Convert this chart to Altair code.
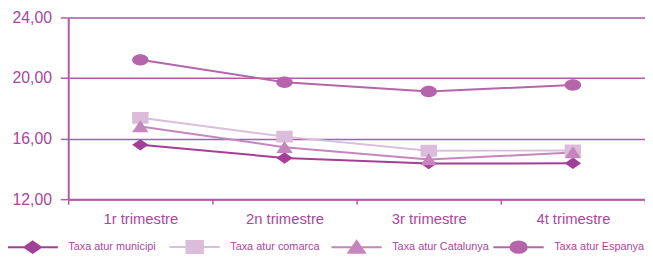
import altair as alt
import pandas as pd

quarters = ["1r trimestre", "2n trimestre", "3r trimestre", "4t trimestre"]
series = ["Taxa atur municipi", "Taxa atur comarca", "Taxa atur Catalunya", "Taxa atur Espanya"]
municipi = [15.59, 14.72, 14.35, 14.37]
comarca = [17.37, 16.13, 15.20, 15.21]
catalunya = [16.80, 15.43, 14.62, 15.08]
espanya = [21.20, 19.72, 19.11, 19.54]
y_ticks = [12, 16, 20, 24]

colors = ["#a43f98", "#dcbcdb", "#c785bd", "#b565a9"]
FONT = "Liberation Sans, Arial, sans-serif"
TEXT = "#a8479d"
AXIS = "#b35aa7"

# marker shapes (unit space, stretched horizontally like the original);
# the leading open segment is only stroked in the legend (points have no stroke)
markers = [
    "M0,-1L1.45,0L0,1L-1.45,0Z",
    "M-1.45,-1.05H1.45V1.05H-1.45Z",
    "M0,-1.1L1.45,1L-1.45,1Z",
    "M-1.45,0A1.45,1 0 1,1 1.45,0A1.45,1 0 1,1 -1.45,0Z",
]
legend_paths = ["M-4.43,0H4.43" + m for m in markers]

rows = []
for name, col, vals in zip(series, colors, [municipi, comarca, catalunya, espanya]):
    for q, v in zip(quarters, vals):
        rows.append({"quarter": q, "series": name, "col": col, "value": v})
df = pd.DataFrame(rows)

x = alt.X(
    "quarter:N",
    sort=quarters,
    title=None,
    scale=alt.Scale(paddingInner=0, paddingOuter=0),
    axis=alt.Axis(
        tickBand="extent",
        labelAngle=0,
        grid=False,
        domainColor=AXIS,
        domainWidth=2,
        tickColor=AXIS,
        tickWidth=1.5,
        tickSize=5,
        labelPadding=8,
        labelFont=FONT,
        labelFontSize=15,
        labelColor=TEXT,
    ),
)
y = alt.Y(
    "value:Q",
    title=None,
    scale=alt.Scale(domain=[12, 24], nice=False, zero=False),
    axis=alt.Axis(
        values=y_ticks,
        labelExpr="replace(format(datum.value, '.2f'), '.', ',')",
        grid=True,
        gridColor=AXIS,
        gridWidth=1.5,
        domainColor=AXIS,
        domainWidth=2,
        tickColor=AXIS,
        tickWidth=1.5,
        tickSize=8,
        labelPadding=9,
        labelFont=FONT,
        labelFontSize=16,
        labelColor=TEXT,
    ),
)

legend = alt.Legend(
    orient="none",
    legendX=-43,
    legendY=225,
    direction="horizontal",
    columns=4,
    gridAlign="all",
    columnPadding=0,
    padding=0,
    labelFont=FONT,
    labelFontSize=11,
    labelColor=TEXT,
    labelOffset=29,
    symbolSize=132,
    symbolStrokeWidth=2,
    symbolOpacity=1,
)

lines = alt.Chart(df).mark_line(strokeWidth=2).encode(
    x=x,
    y=y,
    color=alt.Color("col:N", scale=None),
    detail="series:N",
)

points = alt.Chart(df).mark_point(filled=True, opacity=1, size=132).encode(
    x=x,
    y=y,
    color=alt.Color("series:N", scale=alt.Scale(domain=series, range=colors), title=None, legend=legend),
    stroke=alt.Stroke("series:N", scale=alt.Scale(domain=series, range=colors), title=None, legend=legend),
    shape=alt.Shape("series:N", scale=alt.Scale(domain=series, range=legend_paths), title=None, legend=legend),
    strokeWidth=alt.value(0),
)

chart = (
    alt.layer(lines, points)
    .properties(width=584, height=184, autosize=alt.AutoSizeParams(type="none"), padding={"left": 61, "top": 8, "right": 0, "bottom": 57})
    .configure_view(stroke=None)
    .configure(background="white")
)

chart.save("out.html", embed_options={"renderer": "svg", "actions": False})
